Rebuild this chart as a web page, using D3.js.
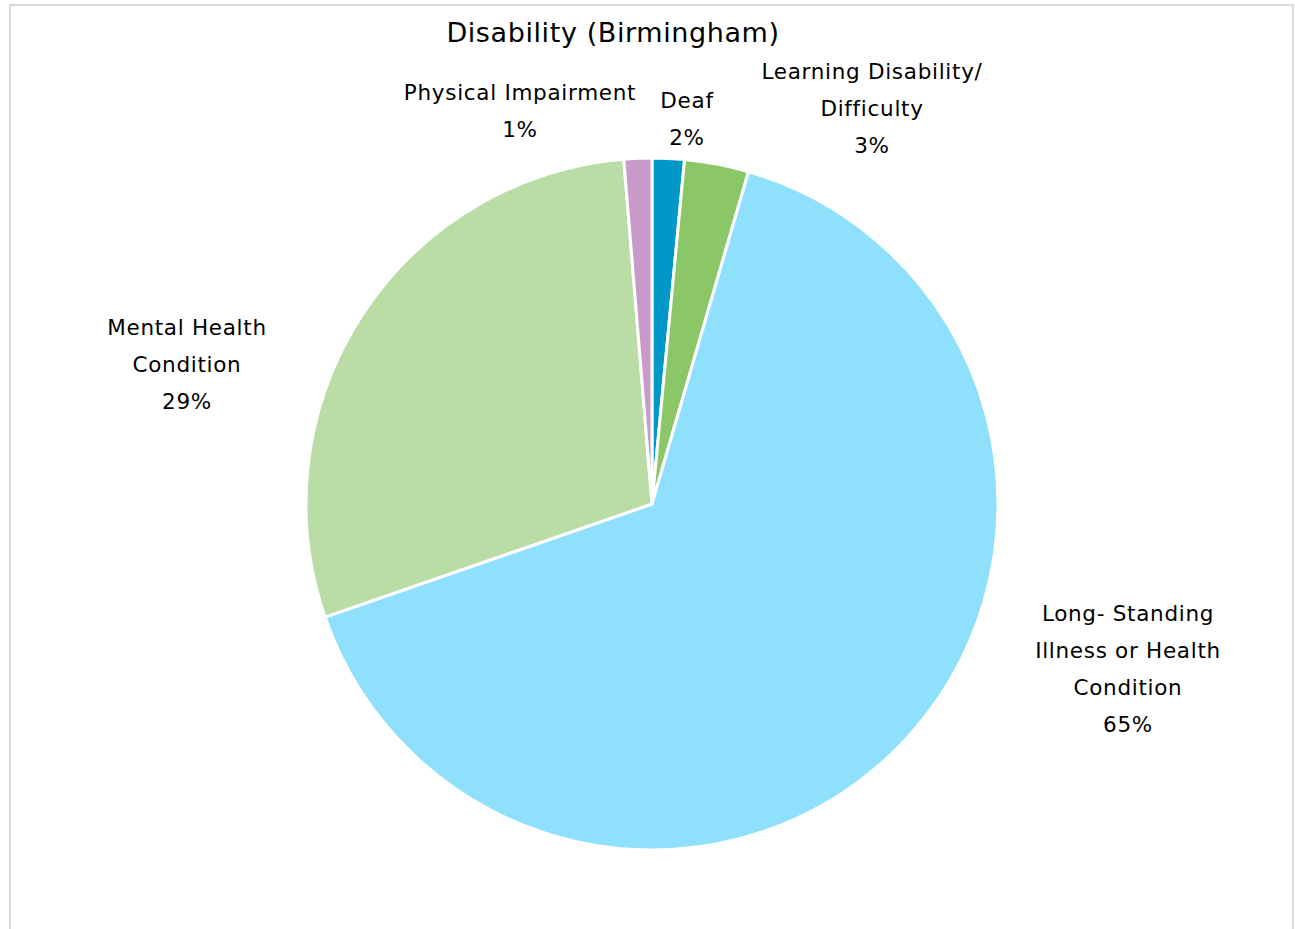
<!DOCTYPE html>
<html>
<head>
<meta charset="utf-8">
<script src="https://cdn.jsdelivr.net/npm/d3@7"></script>
<style>
  html, body { margin: 0; padding: 0; background: #ffffff; }
  svg { display: block; }
  text { font-family: "DejaVu Sans", Verdana, sans-serif; fill: #000; }
</style>
</head>
<body>
<svg id="chart" width="1295" height="929"></svg>
<script>
// Disability breakdown (Birmingham), counts per 1000 respondents
const categories = [
  "Deaf",
  "Learning Disability/ Difficulty",
  "Long- Standing Illness or Health Condition",
  "Mental Health Condition",
  "Physical Impairment"
];
const values = [15, 30, 652, 290, 13];

// Label text lines (category name wrapped as drawn), percentage appended below
const labelLines = [
  ["Deaf"],
  ["Learning Disability/", "Difficulty"],
  ["Long- Standing", "Illness or Health", "Condition"],
  ["Mental Health", "Condition"],
  ["Physical Impairment"]
];

const colors = ["#0097c9", "#8bc766", "#8ee0fd", "#b9dda5", "#c899c9"];

// Label block anchors: centre x and baseline of the first line
const labelAnchors = [
  { x: 687, y: 108 },
  { x: 872, y: 79 },
  { x: 1128, y: 621 },
  { x: 187, y: 335 },
  { x: 520, y: 100 }
];

const svg = d3.select("#chart");
const W = 1295, H = 929;

// Chart area frame
svg.append("rect")
  .attr("x", 10).attr("y", 5)
  .attr("width", 1283).attr("height", H + 10)
  .attr("fill", "#ffffff")
  .attr("stroke", "#d9d9d9")
  .attr("stroke-width", 2);

// Title
svg.append("text")
  .attr("x", 613).attr("y", 42)
  .attr("text-anchor", "middle")
  .style("font-size", "27px")
  .style("letter-spacing", "0.6px")
  .text("Disability (Birmingham)");

const cx = 652, cy = 504, radius = 346;

const pie = d3.pie().sort(null).value(d => d.value);
const arc = d3.arc().innerRadius(0).outerRadius(radius);

const data = categories.map((c, i) => ({ name: c, value: values[i], color: colors[i], lines: labelLines[i], anchor: labelAnchors[i] }));
const total = d3.sum(values);

const g = svg.append("g").attr("transform", `translate(${cx},${cy})`);
g.selectAll("path.slice")
  .data(pie(data))
  .join("path")
  .attr("class", "slice")
  .attr("d", arc)
  .attr("fill", d => d.data.color)
  .attr("stroke", "#ffffff")
  .attr("stroke-width", 3)
  .attr("stroke-linejoin", "round");

// Data labels
const lineH = 37;
const labels = svg.selectAll("text.lbl")
  .data(data)
  .join("text")
  .attr("class", "lbl")
  .attr("text-anchor", "middle")
  .style("font-size", "21.5px")
  .style("letter-spacing", "0.7px");

labels.each(function(d) {
  const t = d3.select(this);
  const lines = d.lines.concat([Math.round(d.value * 100 / total) + "%"]);
  lines.forEach((ln, i) => {
    t.append("tspan")
      .attr("x", d.anchor.x)
      .attr("y", d.anchor.y + i * lineH)
      .text(ln);
  });
});
</script>
</body>
</html>
